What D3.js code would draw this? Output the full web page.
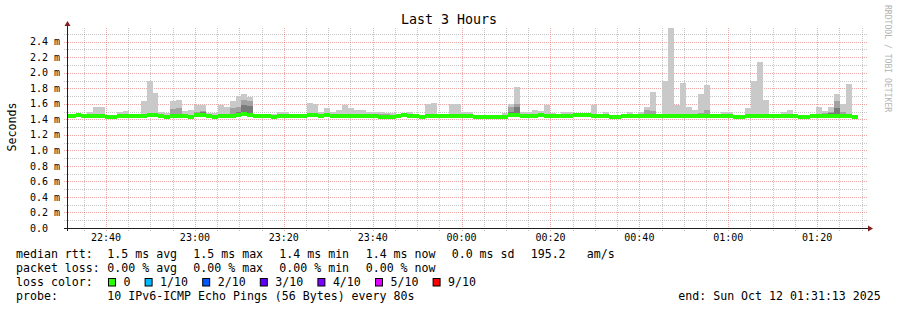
<!DOCTYPE html>
<html>
<head>
<meta charset="utf-8">
<script src="https://cdn.jsdelivr.net/npm/d3@7"></script>
<style>
  body { margin: 0; background: #fff; }
  svg text { font-family: "DejaVu Sans Mono", monospace; white-space: pre; }
</style>
</head>
<body>
<div id="chart"></div>
<script>
// 80 s steps, oldest first (ms)
const median = [
  1.45, 1.45, 1.46, 1.45, 1.45, 1.45, 1.45, 1.44, 1.44, 1.45,
  1.45, 1.45, 1.45, 1.45, 1.46, 1.46, 1.45, 1.44, 1.45, 1.45,
  1.45, 1.43, 1.46, 1.46, 1.45, 1.44, 1.45, 1.45, 1.45, 1.465,
  1.47, 1.465, 1.45, 1.45, 1.45, 1.44, 1.45, 1.45, 1.45, 1.45,
  1.45, 1.46, 1.46, 1.45, 1.46, 1.45, 1.45, 1.45, 1.45, 1.45,
  1.45, 1.45, 1.45, 1.44, 1.43, 1.43, 1.45, 1.46, 1.45, 1.45,
  1.44, 1.45, 1.45, 1.45, 1.45, 1.45, 1.45, 1.45, 1.45, 1.44,
  1.44, 1.43, 1.43, 1.44, 1.43, 1.46, 1.46, 1.45, 1.45, 1.45,
  1.46, 1.45, 1.45, 1.45, 1.45, 1.45, 1.46, 1.46, 1.46, 1.45,
  1.45, 1.45, 1.44, 1.44, 1.45, 1.45, 1.45, 1.45, 1.45, 1.45,
  1.45, 1.45, 1.45, 1.45, 1.45, 1.45, 1.45, 1.45, 1.45, 1.45,
  1.45, 1.45, 1.45, 1.44, 1.44, 1.45, 1.45, 1.45, 1.45, 1.45,
  1.45, 1.45, 1.45, 1.45, 1.44, 1.44, 1.45, 1.45, 1.45, 1.45,
  1.45, 1.45, 1.45, 1.44
];
const smokeLo = [
  1.43, 1.43, 1.44, 1.43, 1.43, 1.43, 1.42, 1.42, 1.42, 1.43,
  1.43, 1.43, 1.43, 1.43, 1.43, 1.44, 1.43, 1.42, 1.43, 1.43,
  1.43, 1.41, 1.43, 1.44, 1.43, 1.42, 1.43, 1.43, 1.43, 1.44,
  1.44, 1.44, 1.43, 1.43, 1.43, 1.42, 1.42, 1.43, 1.43, 1.42,
  1.43, 1.43, 1.43, 1.42, 1.43, 1.43, 1.42, 1.42, 1.43, 1.42,
  1.42, 1.43, 1.42, 1.41, 1.41, 1.41, 1.43, 1.43, 1.43, 1.43,
  1.42, 1.43, 1.43, 1.43, 1.43, 1.43, 1.43, 1.43, 1.43, 1.42,
  1.42, 1.41, 1.41, 1.42, 1.41, 1.43, 1.43, 1.43, 1.42, 1.43,
  1.43, 1.43, 1.42, 1.43, 1.43, 1.43, 1.44, 1.44, 1.44, 1.43,
  1.43, 1.42, 1.42, 1.42, 1.43, 1.43, 1.43, 1.43, 1.43, 1.43,
  1.43, 1.43, 1.43, 1.43, 1.43, 1.42, 1.43, 1.43, 1.43, 1.43,
  1.43, 1.43, 1.43, 1.42, 1.42, 1.43, 1.43, 1.43, 1.43, 1.43,
  1.43, 1.43, 1.43, 1.43, 1.42, 1.42, 1.43, 1.43, 1.43, 1.43,
  1.43, 1.43, 1.43, 1.43
];
const smokeHi = [
  1.46, 1.46, 1.48, 1.47, 1.49, 1.555, 1.555, 1.46, 1.46, 1.49,
  1.51, 1.46, 1.46, 1.63, 1.89, 1.74, 1.49, 1.48, 1.64, 1.65,
  1.51, 1.52, 1.58, 1.58, 1.48, 1.48, 1.58, 1.555, 1.64, 1.705,
  1.73, 1.69, 1.46, 1.46, 1.46, 1.47, 1.50, 1.50, 1.46, 1.47,
  1.47, 1.615, 1.60, 1.50, 1.54, 1.50, 1.52, 1.58, 1.545, 1.52,
  1.52, 1.50, 1.50, 1.50, 1.48, 1.48, 1.46, 1.48, 1.50, 1.46,
  1.45, 1.60, 1.615, 1.46, 1.46, 1.60, 1.60, 1.50, 1.50, 1.46,
  1.45, 1.44, 1.44, 1.45, 1.48, 1.60, 1.82, 1.50, 1.49, 1.52,
  1.51, 1.58, 1.48, 1.46, 1.50, 1.50, 1.46, 1.47, 1.46, 1.58,
  1.46, 1.49, 1.46, 1.46, 1.46, 1.49, 1.46, 1.49, 1.555, 1.755,
  1.47, 1.90, 2.58, 1.58, 1.87, 1.565, 1.52, 1.73, 1.846, 1.46,
  1.47, 1.49, 1.50, 1.45, 1.45, 1.54, 1.89, 2.14, 1.655, 1.46,
  1.45, 1.50, 1.525, 1.47, 1.45, 1.44, 1.47, 1.565, 1.505, 1.555,
  1.73, 1.60, 1.86, 1.46
];
const smokeMid = [
  null, null, 1.475, null, null, null, null, null, null, null,
  null, null, null, null, 1.48, null, null, null, 1.53, 1.54,
  null, null, 1.50, 1.51, null, null, null, null, 1.54, 1.56,
  1.65, 1.63, null, null, null, null, null, null, null, null,
  null, 1.48, null, null, null, null, null, null, null, null,
  null, null, 1.47, 1.47, 1.47, null, null, null, null, null,
  null, null, null, null, null, null, null, null, null, null,
  null, null, null, null, null, 1.555, 1.60, null, null, null,
  null, null, null, null, null, null, null, null, null, null,
  null, null, null, null, null, null, null, null, 1.52, 1.51,
  null, null, null, null, null, null, null, 1.48, 1.525, null,
  null, null, null, null, null, null, null, null, null, null,
  null, null, null, null, null, null, null, null, 1.48, 1.50,
  1.63, 1.49, null, null
];
const smokeDark = [
  null, null, null, null, null, null, null, null, null, null,
  null, null, null, null, null, null, null, null, null, null,
  null, null, null, 1.49, null, null, null, null, null, 1.50,
  1.59, 1.57, null, null, null, null, null, null, null, null,
  null, null, null, null, null, null, null, null, null, null,
  null, null, null, null, null, null, null, null, null, null,
  null, null, null, null, null, null, null, null, null, null,
  null, null, null, null, null, 1.50, 1.555, null, null, null,
  null, null, null, null, null, null, null, null, null, null,
  null, null, null, null, null, null, null, null, null, null,
  null, null, null, null, null, null, null, null, null, null,
  null, null, null, null, null, null, null, null, null, null,
  null, null, null, null, null, null, null, null, null, 1.48,
  1.55, null, null, null
];

const yTicks = [0, 0.2, 0.4, 0.6, 0.8, 1.0, 1.2, 1.4, 1.6, 1.8, 2.0, 2.2, 2.4];
const yLabels = ['0.0', '0.2 m', '0.4 m', '0.6 m', '0.8 m', '1.0 m', '1.2 m', '1.4 m',
                 '1.6 m', '1.8 m', '2.0 m', '2.2 m', '2.4 m'];
const rttStats = ['1.5 ms avg', '1.5 ms max', '1.4 ms min', '1.4 ms now', '0.0 ms sd', '195.2', 'am/s'];
const lossStats = ['0.00 % avg', '0.00 % max', '0.00 % min', '0.00 % now'];
const lossLabels = ['0', '1/10', '2/10', '3/10', '4/10', '5/10', '9/10'];
const lossColors = ['#26ff00', '#00b8ff', '#0059ff', '#5e00ff', '#7e00ff', '#dd00ff', '#ff0000'];
const probeText = '10 IPv6-ICMP Echo Pings (56 Bytes) every 80s';
const endText = 'end: Sun Oct 12 01:31:13 2025';

const W = 897, H = 310;
const plot = { left: 67, right: 867, top: 28, bottom: 228 };
const endTime = Date.UTC(2025, 9, 12, 1, 31, 13);
const stepSec = 80;
const firstStep = endTime - (10800 + 45) * 1000;

const svg = d3.select('#chart').append('svg')
  .attr('width', W).attr('height', H)
  .style('display', 'block');
svg.append('rect').attr('width', W).attr('height', H).attr('fill', '#fff');

const x = d3.scaleUtc()
  .domain([new Date(endTime - 10800 * 1000), new Date(endTime)])
  .range([plot.left, plot.right]);
const y = d3.scaleLinear().domain([0, 2.577]).range([plot.bottom, plot.top]);

const steps = smokeHi.map((hi, i) => ({
  t0: new Date(firstStep + i * stepSec * 1000),
  t1: new Date(firstStep + (i + 1) * stepSec * 1000),
  med: median[i], lo: smokeLo[i], hi, mid: smokeMid[i], dark: smokeDark[i]
}));

// grid (under the data)
const minorX = x.ticks(d3.utcMinute.every(5)).filter((t) => t.getUTCMinutes() % 20 !== 0);
const majorX = x.ticks(d3.utcMinute.every(20));
const minorY = d3.range(1, 26, 2).map((v) => v / 10);
const grid = svg.append('g').attr('fill', 'none').attr('stroke-dasharray', '1,1');
const gridColor = 'rgba(143,143,143,0.5)';
const mgridColor = 'rgba(222,79,79,0.5)';

grid.selectAll('.hmin').data(minorY).join('line')
  .attr('x1', plot.left - 3).attr('x2', plot.right + 1)
  .attr('y1', (d) => Math.round(y(d)) + 0.5).attr('y2', (d) => Math.round(y(d)) + 0.5)
  .attr('stroke', gridColor);
grid.selectAll('.vmin').data(minorX).join('line')
  .attr('x1', (d) => Math.round(x(d)) + 0.5).attr('x2', (d) => Math.round(x(d)) + 0.5)
  .attr('y1', plot.top).attr('y2', plot.bottom + 3)
  .attr('stroke', gridColor);
grid.selectAll('.hmaj').data(yTicks.slice(1)).join('line')
  .attr('x1', plot.left - 3).attr('x2', plot.right + 1)
  .attr('y1', (d) => Math.round(y(d)) + 0.5).attr('y2', (d) => Math.round(y(d)) + 0.5)
  .attr('stroke', mgridColor);
grid.selectAll('.vmaj').data(majorX).join('line')
  .attr('x1', (d) => Math.round(x(d)) + 0.5).attr('x2', (d) => Math.round(x(d)) + 0.5)
  .attr('y1', plot.top).attr('y2', plot.bottom + 3)
  .attr('stroke', mgridColor);

svg.append('clipPath').attr('id', 'clip').append('rect')
  .attr('x', plot.left).attr('y', plot.top)
  .attr('width', plot.right - plot.left).attr('height', plot.bottom - plot.top);

const g = svg.append('g').attr('clip-path', 'url(#clip)');

const drawBand = (data, top, bottom, color) => {
  g.append('g').selectAll('rect').data(data).join('rect')
    .attr('shape-rendering', 'crispEdges')
    .attr('x', (d) => x(d.t0))
    .attr('width', (d) => x(d.t1) - x(d.t0))
    .attr('y', (d) => y(top(d)))
    .attr('height', (d) => Math.max(0, y(bottom(d)) - y(top(d))))
    .attr('fill', color);
};

drawBand(steps, (d) => d.hi, (d) => d.lo, '#c9c9c9');
drawBand(steps.filter((d) => d.mid !== null), (d) => d.mid, (d) => d.lo + 0.01, '#a2a2a2');
drawBand(steps.filter((d) => d.dark !== null), (d) => d.dark, (d) => d.med - 0.01, '#7a7a7a');

// median band, coloured by loss (all 0 here)
g.append('g').selectAll('rect').data(steps).join('rect')
  .attr('shape-rendering', 'crispEdges')
  .attr('x', (d) => x(d.t0))
  .attr('width', (d) => x(d.t1) - x(d.t0))
  .attr('y', (d) => Math.round(y(d.med) - 1.7))
  .attr('height', 3.5)
  .attr('fill', lossColors[0]);

// axes
svg.append('line')
  .attr('x1', plot.left - 3).attr('x2', plot.right + 2)
  .attr('y1', plot.bottom + 0.5).attr('y2', plot.bottom + 0.5)
  .attr('stroke', '#1f1f1f');
svg.append('line')
  .attr('x1', plot.left + 0.5).attr('x2', plot.left + 0.5)
  .attr('y1', plot.bottom + 3).attr('y2', plot.top - 3)
  .attr('stroke', '#1f1f1f');
svg.append('path')
  .attr('d', `M${plot.right + 1},${plot.bottom - 2.5} L${plot.right + 6},${plot.bottom + 0.5} L${plot.right + 1},${plot.bottom + 3.5}Z`)
  .attr('fill', '#801f1f');
svg.append('path')
  .attr('d', `M${plot.left - 2.5},${plot.top - 2} L${plot.left + 0.5},${plot.top - 7} L${plot.left + 3.5},${plot.top - 2}Z`)
  .attr('fill', '#801f1f');

// tick labels
svg.append('g').selectAll('text').data(yTicks).join('text')
  .attr('x', 30).attr('y', (d) => y(d) + 3.6)
  .attr('font-size', 10)
  .text((d, i) => yLabels[i]);
svg.append('g').selectAll('text').data(majorX).join('text')
  .attr('x', (d) => x(d)).attr('y', 241)
  .attr('text-anchor', 'middle').attr('font-size', 10)
  .text(d3.utcFormat('%H:%M'));

// titles
svg.append('text').attr('x', 449).attr('y', 24).attr('text-anchor', 'middle')
  .attr('font-size', 13.3).text('Last 3 Hours');
svg.append('text').attr('transform', 'translate(15.5,127) rotate(-90)')
  .attr('text-anchor', 'middle').attr('font-size', 11.6).text('Seconds');
svg.append('text').attr('transform', 'translate(884.5,5) rotate(90)')
  .attr('font-size', 8.1).attr('fill', '#b4b4b4').text('RRDTOOL / TOBI OETIKER');

// legend
const fs = 11.6;
const legend = svg.append('g').attr('font-size', fs).attr('fill', '#000');
const rttX = [107.3, 193.3, 279.3, 365.7, 451.7, 530.7, 586.7];
legend.append('text').attr('x', 16).attr('y', 258.3).text('median rtt:');
rttStats.forEach((s, i) => legend.append('text').attr('x', rttX[i]).attr('y', 258.3).text(s));
legend.append('text').attr('x', 16).attr('y', 272.3).text('packet loss:');
lossStats.forEach((s, i) => legend.append('text').attr('x', rttX[i]).attr('y', 272.3).text(s));
legend.append('text').attr('x', 16).attr('y', 286.3).text('loss color:');
let bx = 108.5;
lossLabels.forEach((lab, i) => {
  legend.append('rect').attr('x', bx).attr('y', 278.5).attr('width', 7).attr('height', 7.5)
    .attr('fill', lossColors[i]).attr('stroke', '#000').attr('stroke-width', 1);
  legend.append('text').attr('x', bx + 15).attr('y', 286.3).text(lab);
  bx = bx + 15 + lab.length * 7 + 14.6;
});
legend.append('text').attr('x', 16).attr('y', 300).text('probe:');
legend.append('text').attr('x', 107.3).attr('y', 300).text(probeText);
legend.append('text').attr('x', 678.3).attr('y', 300).text(endText);
</script>
</body>
</html>
